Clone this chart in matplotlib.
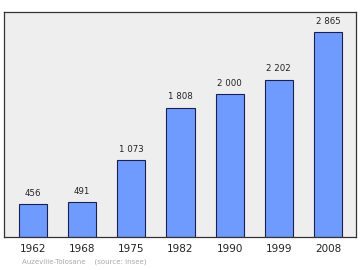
import matplotlib.pyplot as plt

years = ['1962', '1968', '1975', '1982', '1990', '1999', '2008']
population = [456, 491, 1073, 1808, 2000, 2202, 2865]
labels = ['456', '491', '1 073', '1 808', '2 000', '2 202', '2 865']

fig = plt.figure(figsize=(3.6, 2.7), dpi=100)
ax = fig.add_axes([4 / 360, 1 - 237 / 270, 352 / 360, 225 / 270])
ax.set_facecolor('#eeeeee')

x = range(len(years))
bars = ax.bar(x, population, width=0.57, color='#6f9bff',
              edgecolor='#1a2050', linewidth=0.8, zorder=2)
for xi, v, lab in zip(x, population, labels):
    ax.text(xi, v + 90, lab, ha='center', va='bottom', fontsize=6.2, color='#222222')

ax.set_xlim(-0.59, 6.57)
ax.set_ylim(0, max(population) * 1.1)
ax.set_yticks([])
ax.set_xticks(list(x))
ax.set_xticklabels(years, fontsize=7.5, color='#222222')
ax.tick_params(axis='x', length=0, pad=5)
for s in ax.spines.values():
    s.set_color('#333333')
    s.set_linewidth(0.9)

fig.text(22 / 360, 1 - 262 / 270, 'Auzeville-Tolosane    (source: Insee)',
         fontsize=5, color='#aaaaaa', va='center')

fig.savefig('out.png', dpi=100)
